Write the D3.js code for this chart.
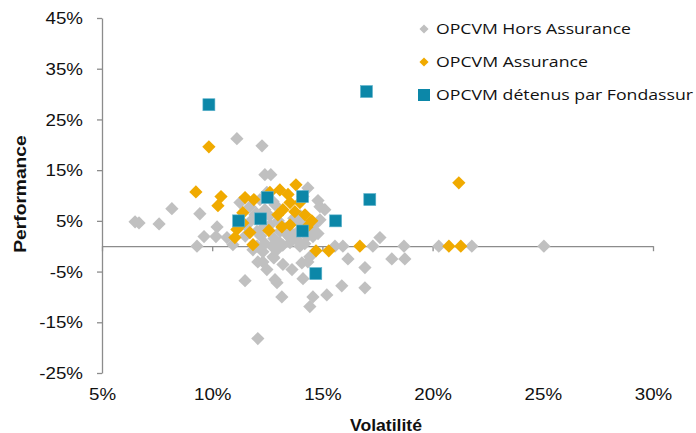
<!DOCTYPE html>
<html><head><meta charset="utf-8">
<script src="https://cdn.jsdelivr.net/npm/d3@7"></script>
<style>
body{margin:0;background:#fff;}
svg{display:block;}
</style></head>
<body>
<svg id="chart" width="696" height="433"></svg>
<script>
// Data (volatility %, performance %)
const seriesNames = ["OPCVM Hors Assurance", "OPCVM Assurance", "OPCVM détenus par Fondassur"];
const horsVol = [6.5,6.68,7.59,8.17,9.44,9.31,9.63,10.17,10.22,10.94,11.12,12.26,12.39,12.66,14.34,14.8,15.11,11.49,12.3,12.48,12.8,12.85,12.94,13.16,13.21,13.62,14.12,14.07,14.34,14.57,14.43,15.2,15.88,12.07,11.85,12.3,12.71,13.07,13.53,13.98,13.84,14.3,14.89,15.93,17.29,17.61,16.16,16.93,18.15,18.74,18.7,20.28,21.78,25.05,16.93,12.03,12.94,14.57,15.57,12.07,12.76,14.43,11.26,11.71,12.17,12.3,12.62,13.39,13.84,11.71,10.67,11.94,12.39,12.85,13.98,14.43,14.89,13.07,13.53,11.49,12.03,14.12,12.48,12.76,12.0,12.6,13.0,13.3,12.2,12.8,13.5,14.0,14.6,11.5,12.4,13.2,14.2,14.8,13.7];
const horsPerf = [4.8,4.6,4.4,7.4,6.4,0,1.9,1.9,3.8,0.3,21.2,19.8,14.1,14.1,11.5,9.0,7.2,-6.8,-3.1,-4.6,-2.3,-6.6,-7.2,-10.0,-3.6,-4.6,-6.4,-3.3,-3.1,-10.0,-11.9,-9.6,-7.8,-18.2,-0.7,-1.1,0,0.7,0.7,0,1.3,1.9,7.8,0,0,1.7,-2.5,-4.2,-2.5,-2.5,0,0,0,0,-8.2,0,-0.7,1.9,0,-3.1,-2.1,-2.1,8.6,7.8,9.2,3.6,4.2,2.3,2.7,4.8,1.7,6.2,7.2,8.2,4.8,3.6,5.2,2.9,1.7,4.2,2.9,9.8,10.6,8.8,6.5,6.0,5.0,3.5,2.0,1.5,3.0,6.0,4.0,2.0,0.5,0.2,0.5,2.5,5.5];
const assVol = [9.26,10.4,10.26,9.85,11.49,11.89,12.62,13.07,13.44,13.8,13.53,13.21,12.98,13.75,14.21,14.52,14.3,13.16,12.57,11.71,11.12,11.03,11.85,11.39,13.53,13.98,14.71,15.29,16.7,20.74,21.28,21.19,11.39];
const assPerf = [10.7,9.8,8.0,19.6,9.6,9.2,10.6,11.1,10.2,12.1,8.6,7.2,6.2,6.8,6.2,5.0,3.8,3.8,3.1,2.7,3.3,1.7,0.3,4.6,4.2,8.6,-0.9,-0.9,0,0,0,12.5,6.6];
const fondVol = [9.85,17.0,11.2,12.2,12.5,14.1,14.1,15.6,17.15,14.7];
const fondPerf = [27.9,30.5,5.0,5.4,9.6,9.8,3.0,5.0,9.2,-5.4];
const xTicks = [5,10,15,20,25,30];
const yTicks = [-25,-15,-5,5,15,25,35,45];
const colors = ["#c0c0c0", "#f0aa00", "#0c87a8"];

const zip = (a, b) => a.map((v, i) => ({vol: v, perf: b[i]}));
const hors = zip(horsVol, horsPerf), ass = zip(assVol, assPerf), fond = zip(fondVol, fondPerf);

const svg = d3.select("#chart");
const x = d3.scaleLinear().domain([5, 30]).range([102, 653]);
const y = d3.scaleLinear().domain([-25, 45]).range([373, 18]);
const fmt = d => d + "%";
const sansFont = "Arial, 'Liberation Sans', sans-serif";

function stretch(sel, f) {
  sel.each(function() {
    const w = this.getComputedTextLength();
    d3.select(this).attr("textLength", w * f).attr("lengthAdjust", "spacingAndGlyphs");
  });
}

// Y axis
const gy = svg.append("g").attr("transform", "translate(102,0)")
  .call(d3.axisLeft(y).tickValues(yTicks).tickSize(5).tickSizeOuter(0).tickPadding(14).tickFormat(fmt));
gy.select(".domain").attr("stroke", "#8c8c8c").attr("stroke-width", 1.3);
gy.selectAll(".tick line").attr("stroke", "#8c8c8c").attr("stroke-width", 1.3);
gy.selectAll("text").attr("font-family", sansFont).attr("font-size", 16).attr("fill", "#111").attr("dy", "0.35em").call(stretch, 1.17);

// X axis line at zero
const gx = svg.append("g").attr("transform", `translate(0,${y(0)})`)
  .call(d3.axisBottom(x).tickValues(xTicks).tickSize(5).tickSizeOuter(0).tickFormat(""));
gx.select(".domain").attr("stroke", "#8c8c8c").attr("stroke-width", 1.3);
gx.selectAll(".tick line").attr("stroke", "#8c8c8c").attr("stroke-width", 1.3);

// X tick labels at bottom
const gxl = svg.append("g").attr("transform", "translate(0,384)")
  .call(d3.axisBottom(x).tickValues(xTicks).tickSize(0).tickPadding(0).tickFormat(fmt));
gxl.select(".domain").remove();
gxl.selectAll("text").attr("font-family", sansFont).attr("font-size", 16).attr("fill", "#111").attr("dy", "1em").call(stretch, 1.17);

// Axis titles
svg.append("text").attr("x", 386).attr("y", 431).attr("text-anchor", "middle")
  .attr("font-family", sansFont).attr("font-weight", "bold").attr("font-size", 16).attr("fill", "#111")
  .text("Volatilité").call(stretch, 1.1);
svg.append("text").attr("transform", "translate(26,194) rotate(-90)").attr("text-anchor", "middle")
  .attr("font-family", sansFont).attr("font-weight", "bold").attr("font-size", 16).attr("fill", "#111")
  .text("Performance").call(stretch, 1.2);

// Points
const diamond = d3.symbol().type(d3.symbolSquare).size(88);
svg.append("g").selectAll("path").data(hors).join("path")
  .attr("d", diamond).attr("transform", d => `translate(${x(d.vol)},${y(d.perf)}) rotate(45)`).attr("fill", colors[0]);
svg.append("g").selectAll("path").data(ass).join("path")
  .attr("d", diamond).attr("transform", d => `translate(${x(d.vol)},${y(d.perf)}) rotate(45)`).attr("fill", colors[1]);
svg.append("g").selectAll("rect").data(fond).join("rect")
  .attr("x", d => x(d.vol) - 6).attr("y", d => y(d.perf) - 6).attr("width", 12).attr("height", 12)
  .attr("fill", colors[2]).attr("stroke", "#5fb3cc").attr("stroke-width", 0.6);

// Legend
const legY = [29, 62, 95];
const leg = svg.append("g");
seriesNames.forEach((name, i) => {
  const g = leg.append("g").attr("transform", `translate(424,${legY[i]})`);
  if (i < 2) {
    g.append("path").attr("d", d3.symbol().type(d3.symbolSquare).size(42)).attr("transform", "rotate(45)").attr("fill", colors[i]);
  } else {
    g.append("rect").attr("x", -6).attr("y", -6).attr("width", 12).attr("height", 12).attr("fill", colors[i]);
  }
  g.append("text").attr("x", 12).attr("dy", "0.35em")
    .attr("font-family", "'Open Sans', sans-serif").attr("font-size", 15).attr("fill", "#111")
    .text(name);
});
const legW = [195, 152, 257];
leg.selectAll("text").each(function(d, i) {
  d3.select(this).attr("textLength", legW[i]).attr("lengthAdjust", "spacingAndGlyphs");
});
</script>
</body></html>
